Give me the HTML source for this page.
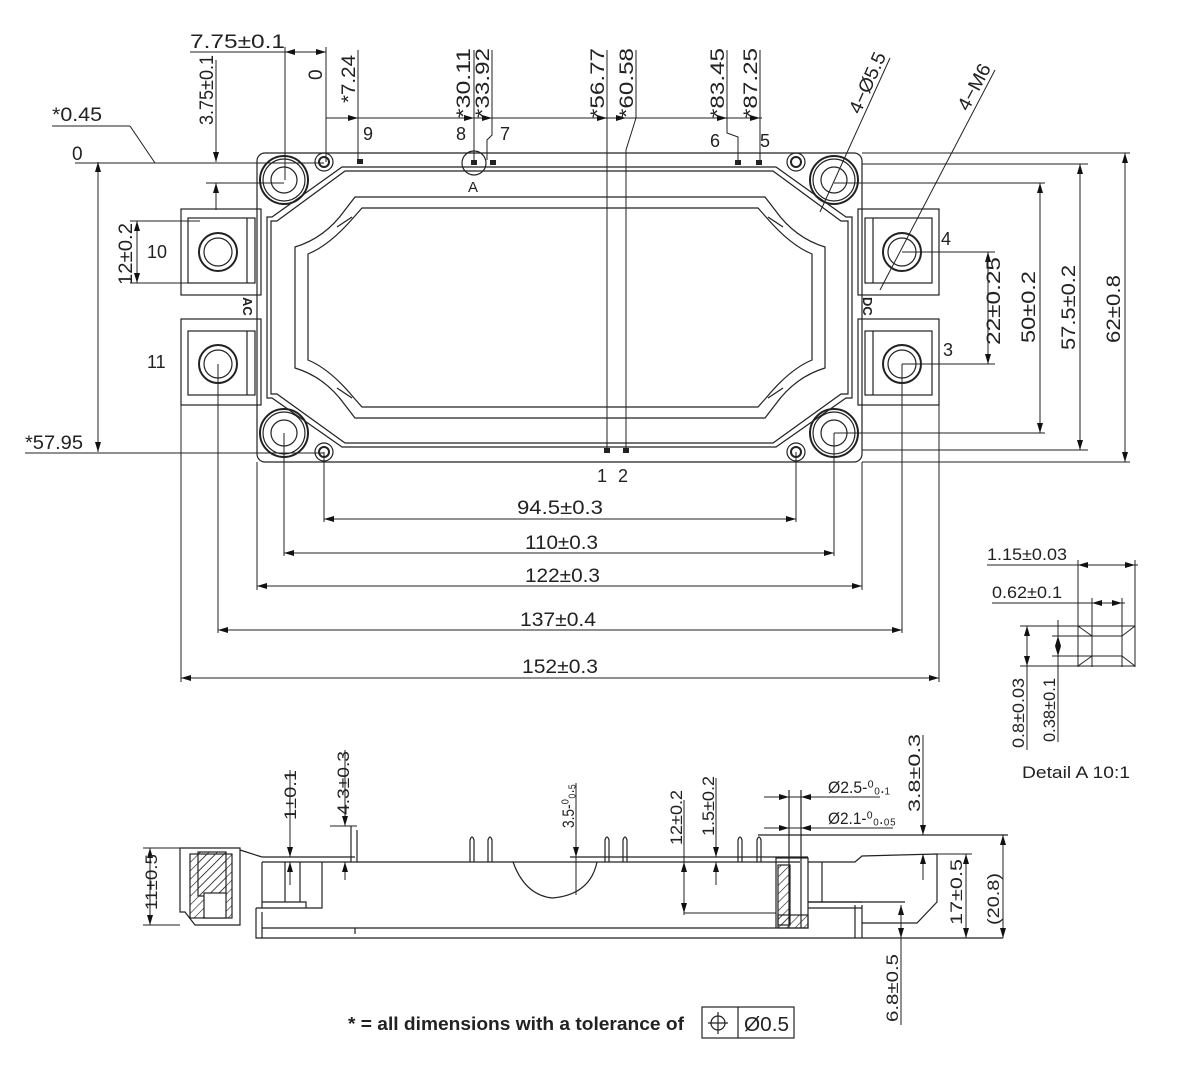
<!DOCTYPE html>
<html><head><meta charset="utf-8"><style>
html,body{margin:0;padding:0;background:#fff}
svg{display:block}
text{font-family:"Liberation Sans",sans-serif;fill:#222}
.d{font-size:19px}
.n{font-size:18px}
</style></head><body>
<svg width="1191" height="1078" viewBox="0 0 1191 1078" xmlns="http://www.w3.org/2000/svg">
<defs>
<marker id="a" markerWidth="10" markerHeight="6" refX="10" refY="3" orient="auto" markerUnits="userSpaceOnUse"><path d="M0,0 L10,3 L0,6z" fill="#111"/></marker>
<marker id="b" markerWidth="10" markerHeight="6" refX="0" refY="3" orient="auto" markerUnits="userSpaceOnUse"><path d="M10,0 L0,3 L10,6z" fill="#111"/></marker>
<pattern id="h" width="6" height="6" patternUnits="userSpaceOnUse" patternTransform="rotate(45)"><line x1="0" y1="0" x2="0" y2="6" stroke="#222" stroke-width="1.2"/></pattern>
</defs>
<g fill="none" stroke="#222" stroke-width="1.2">
<!-- TOP VIEW body -->
<rect x="257" y="153" width="605" height="309" rx="8"/>
<!-- frame -->
<path d="M342,167 L776,167 L846,217 L852,217 L852,398 L846,398 L776,447 L342,447 L272,398 L267,398 L267,217 L272,217 Z"/>
<path d="M345,171 L773,171 L841,221 L848,221 L848,394 L841,394 L773,443 L345,443 L277,394 L271,394 L271,221 L277,221 Z"/>
<!-- cavity -->
<path d="M355,197 L765,197 L775,210 Q795,238 825,247 L825,368 Q795,377 775,405 L765,418 L355,418 L345,405 Q325,377 295,368 L295,247 Q325,238 345,210 Z"/>
<path d="M362,208 L758,208 L766,217 Q790,245 812,254 L812,360 Q790,369 766,398 L758,407 L362,407 L354,398 Q330,369 308,360 L308,254 Q330,245 354,217 Z"/>
<line x1="337" y1="227" x2="352" y2="217"/><line x1="783" y1="227" x2="768" y2="217"/>
<line x1="337" y1="388" x2="352" y2="398"/><line x1="783" y1="388" x2="768" y2="398"/>
<!-- tabs -->
<rect x="181" y="209" width="80" height="86"/><rect x="188" y="218" width="67" height="65"/><line x1="247" y1="218" x2="247" y2="283"/>
<rect x="181" y="319" width="80" height="86"/><rect x="188" y="331" width="67" height="64"/><line x1="247" y1="331" x2="247" y2="395"/>
<rect x="858" y="209" width="81" height="86"/><rect x="865" y="218" width="67" height="65"/><line x1="873" y1="218" x2="873" y2="283"/>
<rect x="858" y="319" width="81" height="86"/><rect x="865" y="331" width="67" height="64"/><line x1="873" y1="331" x2="873" y2="395"/>
<circle cx="218" cy="252" r="19" stroke-width="2"/><circle cx="218" cy="252" r="14"/>
<circle cx="218" cy="364" r="19" stroke-width="2"/><circle cx="218" cy="364" r="14"/>
<circle cx="902" cy="252" r="19" stroke-width="2"/><circle cx="902" cy="252" r="14"/>
<circle cx="902" cy="364" r="19" stroke-width="2"/><circle cx="902" cy="364" r="14"/>
<!-- mounting holes -->
<g stroke-width="2"><circle cx="284" cy="180" r="24"/><circle cx="834" cy="180" r="24"/><circle cx="284" cy="433" r="24"/><circle cx="834" cy="433" r="24"/></g>
<circle cx="284" cy="180" r="21"/><circle cx="834" cy="180" r="21"/><circle cx="284" cy="433" r="21"/><circle cx="834" cy="433" r="21"/>
<circle cx="284" cy="180" r="13"/><circle cx="834" cy="180" r="13"/><circle cx="284" cy="433" r="13"/><circle cx="834" cy="433" r="13"/>
<circle cx="324" cy="162" r="9"/><circle cx="324" cy="162" r="5" stroke-width="2"/>
<circle cx="796" cy="162" r="9"/><circle cx="796" cy="162" r="5" stroke-width="2"/>
<circle cx="324" cy="452" r="9"/><circle cx="324" cy="452" r="5" stroke-width="2"/>
<circle cx="796" cy="452" r="9"/><circle cx="796" cy="452" r="5" stroke-width="2"/>
<circle cx="474" cy="163" r="12"/>
</g>
<g fill="#222"><rect x="357" y="159" width="6" height="5"/><rect x="471" y="160" width="6" height="5"/><rect x="490" y="160" width="6" height="5"/><rect x="735" y="160" width="6" height="5"/><rect x="756" y="160" width="6" height="5"/><rect x="604" y="448" width="6" height="5"/><rect x="623" y="448" width="6" height="5"/></g>

<!-- top dims -->
<g fill="none" stroke="#222" stroke-width="1">
<line x1="190" y1="52" x2="302" y2="52"/><line x1="285" y1="47" x2="285" y2="180"/><line x1="326" y1="47" x2="326" y2="162"/>
<line x1="285" y1="52" x2="326" y2="52" marker-start="url(#b)" marker-end="url(#a)"/>
<line x1="216" y1="60" x2="216" y2="162" marker-end="url(#a)"/><line x1="206" y1="183" x2="284" y2="183"/><line x1="216" y1="210" x2="216" y2="183" marker-end="url(#a)"/>
<line x1="52" y1="126" x2="130" y2="126"/><line x1="130" y1="126" x2="155" y2="163"/><line x1="75" y1="163" x2="324" y2="163"/>
<line x1="98" y1="162" x2="98" y2="452" marker-start="url(#b)" marker-end="url(#a)"/>
<line x1="25" y1="453" x2="324" y2="453"/>
<line x1="137" y1="221" x2="137" y2="283" marker-start="url(#b)" marker-end="url(#a)"/>
<line x1="130" y1="221" x2="200" y2="221"/><line x1="130" y1="283" x2="200" y2="283"/>
<line x1="326" y1="118" x2="762" y2="118"/>
<line x1="326" y1="118" x2="358" y2="118" marker-end="url(#a)"/><line x1="440" y1="118" x2="474" y2="118" marker-end="url(#a)"/><line x1="474" y1="118" x2="492" y2="118" marker-end="url(#a)"/>
<line x1="570" y1="118" x2="607" y2="118" marker-end="url(#a)"/><line x1="607" y1="118" x2="626" y2="118" marker-end="url(#a)"/>
<line x1="690" y1="118" x2="727" y2="118" marker-end="url(#a)"/><line x1="727" y1="118" x2="760" y2="118" marker-end="url(#a)"/>
<line x1="358" y1="50" x2="358" y2="162"/><line x1="474" y1="50" x2="474" y2="162"/>
<path d="M492,50 L492,135 L487,140 L487,160"/>
<line x1="607" y1="50" x2="607" y2="452"/><path d="M636,50 L636,118 L626,150 L626,452"/>
<path d="M727,50 L727,133 L738,137 L738,162"/><line x1="760" y1="50" x2="760" y2="162"/>
<line x1="820" y1="212" x2="890" y2="58"/><line x1="880" y1="290" x2="995" y2="70"/>
<line x1="862" y1="153" x2="1130" y2="153"/><line x1="862" y1="164" x2="1088" y2="164"/><line x1="834" y1="183" x2="1045" y2="183"/>
<line x1="862" y1="462" x2="1130" y2="462"/><line x1="862" y1="450" x2="1088" y2="450"/><line x1="834" y1="433" x2="1045" y2="433"/>
<line x1="1125" y1="153" x2="1125" y2="462" marker-start="url(#b)" marker-end="url(#a)"/>
<line x1="1080" y1="164" x2="1080" y2="450" marker-start="url(#b)" marker-end="url(#a)"/>
<line x1="1040" y1="183" x2="1040" y2="433" marker-start="url(#b)" marker-end="url(#a)"/>
<line x1="902" y1="252" x2="995" y2="252"/><line x1="902" y1="364" x2="995" y2="364"/>
<line x1="988" y1="252" x2="988" y2="364" marker-start="url(#b)" marker-end="url(#a)"/>
<!-- bottom dims -->
<line x1="324" y1="452" x2="324" y2="522"/><line x1="796" y1="452" x2="796" y2="522"/>
<line x1="324" y1="519" x2="796" y2="519" marker-start="url(#b)" marker-end="url(#a)"/>
<line x1="284" y1="433" x2="284" y2="556"/><line x1="834" y1="433" x2="834" y2="556"/>
<line x1="284" y1="553" x2="834" y2="553" marker-start="url(#b)" marker-end="url(#a)"/>
<line x1="257" y1="462" x2="257" y2="590"/><line x1="862" y1="462" x2="862" y2="590"/>
<line x1="257" y1="586" x2="862" y2="586" marker-start="url(#b)" marker-end="url(#a)"/>
<line x1="218" y1="364" x2="218" y2="633"/><line x1="902" y1="364" x2="902" y2="633"/>
<line x1="218" y1="630" x2="902" y2="630" marker-start="url(#b)" marker-end="url(#a)"/>
<line x1="181" y1="405" x2="181" y2="682"/><line x1="939" y1="405" x2="939" y2="682"/>
<line x1="181" y1="678" x2="939" y2="678" marker-start="url(#b)" marker-end="url(#a)"/>
</g>
<g class="d">
<text x="190" y="48" textLength="95" lengthAdjust="spacingAndGlyphs">7.75±0.1</text>
<text x="52" y="121" textLength="50" lengthAdjust="spacingAndGlyphs">*0.45</text>
<text x="72" y="160">0</text>
<text x="25" y="449" textLength="58" lengthAdjust="spacingAndGlyphs">*57.95</text>
<text transform="translate(213,125) rotate(-90)" textLength="70" lengthAdjust="spacingAndGlyphs">3.75±0.1</text>
<text transform="translate(322,80) rotate(-90)">0</text>
<text transform="translate(355,103) rotate(-90)" textLength="48" lengthAdjust="spacingAndGlyphs">*7.24</text>
<text transform="translate(470,118) rotate(-90)" textLength="70" lengthAdjust="spacingAndGlyphs">*30.11</text>
<text transform="translate(489,118) rotate(-90)" textLength="70" lengthAdjust="spacingAndGlyphs">*33.92</text>
<text transform="translate(604,118) rotate(-90)" textLength="70" lengthAdjust="spacingAndGlyphs">*56.77</text>
<text transform="translate(633,118) rotate(-90)" textLength="70" lengthAdjust="spacingAndGlyphs">*60.58</text>
<text transform="translate(724,118) rotate(-90)" textLength="70" lengthAdjust="spacingAndGlyphs">*83.45</text>
<text transform="translate(757,118) rotate(-90)" textLength="70" lengthAdjust="spacingAndGlyphs">*87.25</text>
<text transform="translate(860,115) rotate(-66)" textLength="65" lengthAdjust="spacingAndGlyphs">4−Ø5.5</text>
<text transform="translate(968,112) rotate(-62)" textLength="50" lengthAdjust="spacingAndGlyphs">4−M6</text>
<text transform="translate(132,285) rotate(-90)" textLength="62" lengthAdjust="spacingAndGlyphs">12±0.2</text>
<text transform="translate(1000,345) rotate(-90)" textLength="88" lengthAdjust="spacingAndGlyphs">22±0.25</text>
<text transform="translate(1035,343) rotate(-90)" textLength="72" lengthAdjust="spacingAndGlyphs">50±0.2</text>
<text transform="translate(1075,350) rotate(-90)" textLength="85" lengthAdjust="spacingAndGlyphs">57.5±0.2</text>
<text transform="translate(1120,343) rotate(-90)" textLength="68" lengthAdjust="spacingAndGlyphs">62±0.8</text>
<text x="517" y="514" textLength="86" lengthAdjust="spacingAndGlyphs">94.5±0.3</text>
<text x="525" y="549" textLength="73" lengthAdjust="spacingAndGlyphs">110±0.3</text>
<text x="525" y="582" textLength="75" lengthAdjust="spacingAndGlyphs">122±0.3</text>
<text x="520" y="626" textLength="76" lengthAdjust="spacingAndGlyphs">137±0.4</text>
<text x="522" y="673" textLength="76" lengthAdjust="spacingAndGlyphs">152±0.3</text>
<text x="468" y="192" font-size="15">A</text>
</g>
<g class="n">
<text x="363" y="140">9</text><text x="456" y="140">8</text><text x="500" y="140">7</text>
<text x="710" y="147">6</text><text x="760" y="147">5</text>
<text x="597" y="482">1</text><text x="618" y="482">2</text>
<text x="147" y="258">10</text><text x="147" y="368">11</text>
<text x="941" y="245">4</text><text x="943" y="356">3</text>
<text transform="translate(243,297) rotate(90)" font-size="13" font-weight="bold">AC</text>
<text transform="translate(863,297) rotate(90)" font-size="13" font-weight="bold">DC</text>
</g>

<!-- DETAIL A -->
<g fill="none" stroke="#222" stroke-width="1">
<line x1="987" y1="565" x2="1138" y2="565"/><line x1="1078" y1="560" x2="1078" y2="667"/><line x1="1135" y1="560" x2="1135" y2="667"/>
<line x1="1078" y1="565" x2="1135" y2="565" marker-start="url(#b)" marker-end="url(#a)"/>
<line x1="992" y1="603" x2="1125" y2="603"/><line x1="1092" y1="598" x2="1092" y2="667"/><line x1="1122" y1="598" x2="1122" y2="667"/>
<line x1="1092" y1="603" x2="1122" y2="603" marker-start="url(#b)" marker-end="url(#a)"/>
<rect x="1078" y="626" width="57" height="40"/><rect x="1092" y="636" width="30" height="20"/>
<line x1="1078" y1="626" x2="1092" y2="636"/><line x1="1135" y1="626" x2="1122" y2="636"/><line x1="1078" y1="666" x2="1092" y2="656"/><line x1="1135" y1="666" x2="1122" y2="656"/>
<line x1="1020" y1="626" x2="1078" y2="626"/><line x1="1020" y1="666" x2="1078" y2="666"/>
<line x1="1052" y1="636" x2="1092" y2="636"/><line x1="1052" y1="656" x2="1092" y2="656"/>
<line x1="1027" y1="626" x2="1027" y2="750" /><line x1="1027" y1="626" x2="1027" y2="666" marker-start="url(#b)" marker-end="url(#a)"/>
<line x1="1058" y1="620" x2="1058" y2="742"/><line x1="1058" y1="636" x2="1058" y2="656" marker-start="url(#b)" marker-end="url(#a)"/>
</g>
<g class="d" font-size="17">
<text x="987" y="560" font-size="17" textLength="80" lengthAdjust="spacingAndGlyphs">1.15±0.03</text>
<text x="992" y="598" font-size="17" textLength="70" lengthAdjust="spacingAndGlyphs">0.62±0.1</text>
<text transform="translate(1024,748) rotate(-90)" font-size="17" textLength="70" lengthAdjust="spacingAndGlyphs">0.8±0.03</text>
<text transform="translate(1055,742) rotate(-90)" font-size="17" textLength="64" lengthAdjust="spacingAndGlyphs">0.38±0.1</text>
<text x="1022" y="778" font-size="17" textLength="108" lengthAdjust="spacingAndGlyphs">Detail A 10:1</text>
</g>

<!-- SIDE VIEW -->
<g fill="none" stroke="#222" stroke-width="1.2">
<path d="M262,862 L800,862"/>
<path d="M256,908 L256,938 L1003,938"/>
<path d="M262,928 L355,928 L355,934"/>
<path d="M355,928 L776,928"/>
<path d="M262,862 L262,908"/>
<path d="M256,908 L322,908 L322,862"/>
<line x1="285" y1="862" x2="285" y2="902"/><line x1="300" y1="862" x2="300" y2="902"/><path d="M262,902 L306,902 L306,908"/>
<line x1="262" y1="912" x2="262" y2="938"/>
<!-- right end -->
<path d="M808,862 L855,862 L862,856 L937,854 L937,902 L917,923 L862,923"/>
<line x1="808" y1="902" x2="862" y2="902"/><line x1="808" y1="908" x2="862" y2="908"/>
<line x1="822" y1="862" x2="822" y2="902"/><line x1="855" y1="905" x2="855" y2="938"/><line x1="862" y1="905" x2="862" y2="938"/>
<line x1="808" y1="902" x2="905" y2="902"/>
<!-- top ledges -->
<path d="M262,857 L355,857"/><path d="M570,857 L808,857"/>
<!-- pins -->
<path d="M351,862 L351,826 M357,862 L357,830"/>
<path d="M470,862 L470,840 Q472,834 474,840 L474,862 M488,862 L488,840 Q490,834 492,840 L492,862"/>
<path d="M605,862 L605,840 Q607,834 609,840 L609,862 M623,862 L623,840 Q625,834 627,840 L627,862"/>
<path d="M738,862 L738,840 Q740,834 742,840 L742,862 M757,862 L757,840 Q759,834 761,840 L761,862"/>
<line x1="758" y1="835" x2="1008" y2="835"/>
<!-- cavity arc -->
<path d="M513,862 Q525,895 552,898 Q590,895 597,862"/>
<!-- hatched housing -->
<rect x="776" y="858" width="32" height="70"/>
<rect x="778" y="865" width="12" height="60" fill="url(#h)"/>
<rect x="778" y="915" width="30" height="13" fill="url(#h)"/>
<line x1="789" y1="790" x2="789" y2="928"/><line x1="801" y1="790" x2="801" y2="928"/>
<!-- left connector -->
<path d="M180,848 L240,848 L240,925 L195,925 L185,912 L180,912 Z"/>
<rect x="190" y="854" width="42" height="64" fill="url(#h)"/>
<rect x="198" y="852" width="28" height="44" fill="url(#h)"/>
<rect x="204" y="893" width="22" height="25" fill="#fff"/>
<line x1="240" y1="850" x2="262" y2="857"/>
</g>
<!-- side dims -->
<g fill="none" stroke="#222" stroke-width="1">
<line x1="143" y1="848" x2="180" y2="848"/><line x1="143" y1="925" x2="180" y2="925"/>
<line x1="150" y1="848" x2="150" y2="925" marker-start="url(#b)" marker-end="url(#a)"/>
<line x1="290" y1="770" x2="290" y2="857" marker-end="url(#a)"/><line x1="290" y1="885" x2="290" y2="862" marker-end="url(#a)"/><line x1="280" y1="857" x2="310" y2="857"/>
<line x1="345" y1="750" x2="345" y2="826" marker-end="url(#a)"/><line x1="345" y1="880" x2="345" y2="862" marker-end="url(#a)"/><line x1="330" y1="826" x2="357" y2="826"/>
<line x1="576" y1="783" x2="576" y2="895"/><line x1="576" y1="840" x2="576" y2="857" marker-end="url(#a)"/>
<line x1="684" y1="800" x2="684" y2="915" /><line x1="684" y1="880" x2="684" y2="862" marker-end="url(#a)"/><line x1="684" y1="895" x2="684" y2="913" marker-end="url(#a)"/><line x1="684" y1="913" x2="776" y2="913"/>
<line x1="716" y1="778" x2="716" y2="857" marker-end="url(#a)"/><line x1="716" y1="885" x2="716" y2="862" marker-end="url(#a)"/>
<line x1="764" y1="797" x2="880" y2="797"/><line x1="770" y1="797" x2="789" y2="797" marker-end="url(#a)"/><line x1="820" y1="797" x2="801" y2="797" marker-end="url(#a)"/>
<line x1="764" y1="828" x2="893" y2="828"/><line x1="773" y1="828" x2="789" y2="828" marker-end="url(#a)"/><line x1="820" y1="828" x2="801" y2="828" marker-end="url(#a)"/>
<line x1="923" y1="735" x2="923" y2="835" marker-end="url(#a)"/><line x1="923" y1="880" x2="923" y2="854" marker-end="url(#a)"/>
<line x1="966" y1="854" x2="966" y2="938" marker-start="url(#b)" marker-end="url(#a)"/><line x1="937" y1="854" x2="972" y2="854"/>
<line x1="1003" y1="835" x2="1003" y2="938" marker-start="url(#b)" marker-end="url(#a)"/>
<line x1="901" y1="1025" x2="901" y2="905" marker-end="url(#a)"/><line x1="901" y1="910" x2="901" y2="938" marker-end="url(#a)"/>
</g>
<g class="d" font-size="17">
<text transform="translate(157,910) rotate(-90)" font-size="17" textLength="56" lengthAdjust="spacingAndGlyphs">11±0.5</text>
<text transform="translate(296,820) rotate(-90)" font-size="17" textLength="50" lengthAdjust="spacingAndGlyphs">1±0.1</text>
<text transform="translate(349,815) rotate(-90)" font-size="17" textLength="64" lengthAdjust="spacingAndGlyphs">4.3±0.3</text>
<text transform="translate(574,828) rotate(-90)" font-size="17" textLength="44" lengthAdjust="spacingAndGlyphs">3.5-⁰₀.₅</text>
<text transform="translate(682,845) rotate(-90)" font-size="17" textLength="55" lengthAdjust="spacingAndGlyphs">12±0.2</text>
<text transform="translate(714,836) rotate(-90)" font-size="17" textLength="60" lengthAdjust="spacingAndGlyphs">1.5±0.2</text>
<text x="828" y="793" font-size="17" textLength="62" lengthAdjust="spacingAndGlyphs">Ø2.5-⁰₀.₁</text>
<text x="828" y="824" font-size="17" textLength="68" lengthAdjust="spacingAndGlyphs">Ø2.1-⁰₀.₀₅</text>
<text transform="translate(920,812) rotate(-90)" font-size="17" textLength="78" lengthAdjust="spacingAndGlyphs">3.8±0.3</text>
<text transform="translate(962,925) rotate(-90)" font-size="17" textLength="66" lengthAdjust="spacingAndGlyphs">17±0.5</text>
<text transform="translate(999,925) rotate(-90)" font-size="17" textLength="52" lengthAdjust="spacingAndGlyphs">(20.8)</text>
<text transform="translate(898,1022) rotate(-90)" font-size="17" textLength="68" lengthAdjust="spacingAndGlyphs">6.8±0.5</text>
</g>
<!-- footer -->
<text x="348" y="1030" font-family="'Liberation Serif',serif" font-weight="bold" font-size="18" textLength="336" lengthAdjust="spacingAndGlyphs">* = all dimensions with a tolerance of</text>
<g fill="none" stroke="#222" stroke-width="1.2">
<rect x="702" y="1007" width="92" height="31"/><line x1="738" y1="1007" x2="738" y2="1038"/>
<circle cx="718" cy="1023" r="7"/><line x1="718" y1="1012" x2="718" y2="1034"/><line x1="708" y1="1023" x2="728" y2="1023"/>
</g>
<text x="744" y="1031" font-size="20" textLength="45" lengthAdjust="spacingAndGlyphs">Ø0.5</text>
</svg>
</body></html>
